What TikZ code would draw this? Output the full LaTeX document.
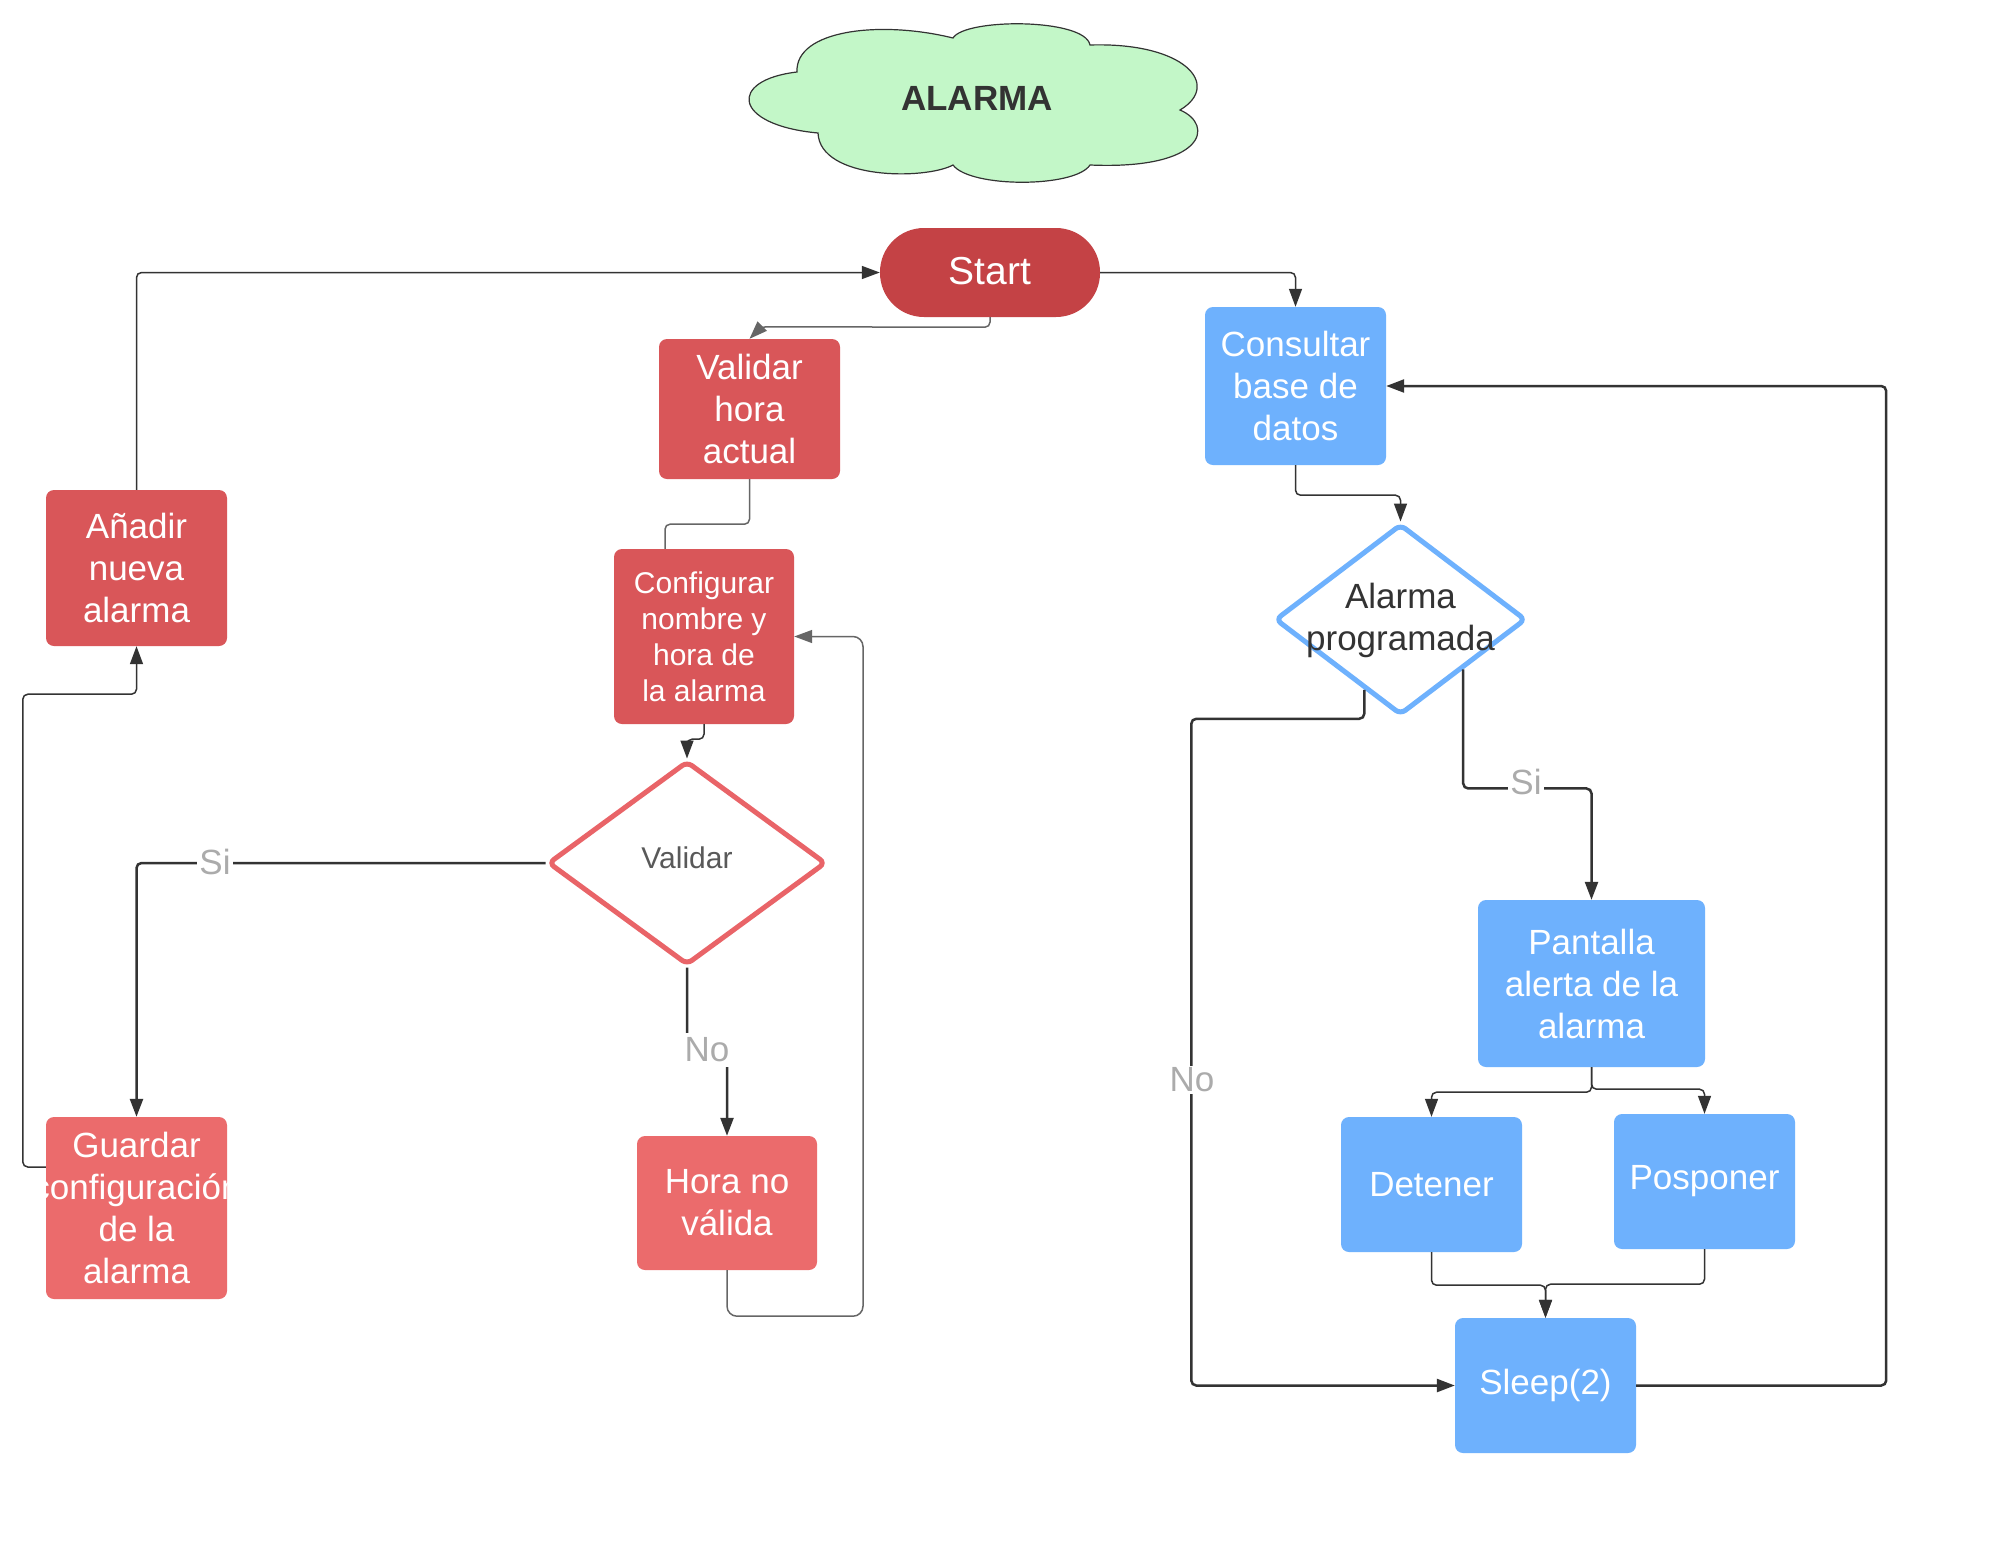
\documentclass[tikz,border=0pt]{standalone}
\usepackage{fontspec}
\setmainfont{Liberation Sans}
\usetikzlibrary{arrows.meta,shapes.geometric,calc}
\definecolor{startred}{HTML}{C44245}
\definecolor{boxred}{HTML}{D95659}
\definecolor{lightred}{HTML}{EB6B6C}
\definecolor{boxblue}{HTML}{6EB1FD}
\definecolor{dred}{HTML}{E96468}
\definecolor{cloudgreen}{HTML}{C3F7C8}
\definecolor{lbl}{HTML}{ABABAB}
\definecolor{ink}{HTML}{333333}
\definecolor{gline}{HTML}{666666}
\definecolor{vtext}{HTML}{595959}
\begin{document}
\begin{tikzpicture}[x=1pt,y=-1pt,
  box/.style={rectangle, rounded corners=8pt, inner sep=0pt, text=white, align=center, font=\fontsize{35}{42}\selectfont},
  dia/.style={diamond, line width=5pt, rounded corners=6pt, inner sep=0pt},
  thin/.style={draw=ink, line width=1.5pt, rounded corners=5pt},
  grey/.style={draw=gline, line width=1.5pt, rounded corners=5pt},
  bold/.style={draw=ink, line width=2.5pt, rounded corners=5pt},
  arr/.style={-{Triangle[length=18pt,width=13pt]}},
  lab/.style={fill=white, text=lbl, inner sep=2pt, font=\fontsize{35}{42}\selectfont}
]
\fill[white] (0,0) rectangle (1999,1545);
\useasboundingbox (0,0) rectangle (1999,1545);

% cloud
\draw[fill=cloudgreen, draw=ink, line width=1.2pt]
  (818,133) .. controls (732,125) and (728,80) .. (797,72)
  .. controls (795,30) and (880,20) .. (953,38)
  .. controls (965,18) and (1085,18) .. (1090,45)
  .. controls (1185,42) and (1222,85) .. (1180,110)
  .. controls (1215,125) and (1205,170) .. (1090,165)
  .. controls (1075,188) and (970,188) .. (953,165)
  .. controls (925,180) and (820,180) .. (818,133) -- cycle;
\node[font=\bfseries\fontsize{35}{42}\selectfont, text=ink] (title) at (977,98) {ALARMA};

% nodes
\node[box, fill=startred, minimum width=220pt, minimum height=89pt, rounded corners=44pt, font=\fontsize{39}{46}\selectfont] (start) at (990,272.5) {\raisebox{4pt}{Start}};
\node[box, fill=boxred, minimum width=181pt, minimum height=140pt] (vha) at (749.5,409) {Validar\\hora\\actual};
\node[box, fill=boxred, minimum width=180pt, minimum height=175pt, font=\fontsize{30}{36}\selectfont] (conf) at (704,636.5) {Configurar\\nombre y\\hora de\\la alarma};
\node[dia, draw=dred, minimum width=278pt, minimum height=204pt, aspect=1.36] (validar) at (687,863) {};
\node[text=vtext, font=\fontsize{30}{36}\selectfont] (validartxt) at (687,858) {Validar};
\node[box, fill=lightred, minimum width=180pt, minimum height=134pt] (hnv) at (727,1203) {Hora no\\válida};
\node[box, fill=boxred, minimum width=181pt, minimum height=156pt] (anadir) at (136.5,568) {Añadir\\nueva\\alarma};
\node[box, fill=lightred, minimum width=181pt, minimum height=182pt] (guardar) at (136.5,1208) {Guardar\\\makebox[0pt]{configuración}\\de la\\alarma};
\node[box, fill=boxblue, minimum width=181pt, minimum height=158pt] (consultar) at (1295.5,386) {Consultar\\base de\\datos};
\node[dia, draw=boxblue, minimum width=251pt, minimum height=191pt, aspect=1.31] (alarma) at (1400.5,619.5) {};
\node[text=ink, align=center, font=\fontsize{35}{42}\selectfont] (alarmatxt) at (1400.5,620) {Alarma\\programada};
\node[box, fill=boxblue, minimum width=227pt, minimum height=167pt] (pantalla) at (1591.5,983.5) {Pantalla\\alerta de la\\alarma};
\node[box, fill=boxblue, minimum width=181pt, minimum height=135pt] (detener) at (1431.5,1184.5) {Detener};
\node[box, fill=boxblue, minimum width=181pt, minimum height=135pt] (posponer) at (1704.5,1181.5) {Posponer};
\node[box, fill=boxblue, minimum width=181pt, minimum height=135pt] (sleep) at (1545.5,1385.5) {Sleep(2)};

% connectors
\draw[thin, arr] (anadir.north) |- (start.west);
\draw[grey, arr] (start.south) -- ++(0,10) -- ($(vha.north)+(12,-12)$) -- (vha.north);
\draw[grey] (vha.south) -- ++(0,45) -| ($(conf.north)+(-39,0)$);
\draw[thin, arr] (conf.south) -- ++(0,15) -| (validar.north);
\draw[bold, arr] (validar.west) -| (guardar.north);
\node[lab] (si1) at (215,862) {Si};
\draw[bold, arr] (validar.south) -- ++(0,82) -| (hnv.north);
\node[lab, inner sep=5pt] (no1) at (707,1050) {No};
\draw[grey, rounded corners=10pt, arr] (hnv.south) -- ++(0,46) -- ++(136,0) |- (conf.east);
\draw[thin, arr] ($(guardar.west)+(0,-41)$) -- ++(-23,0) |- ($(anadir.south)+(0,48)$) -- (anadir.south);
\draw[thin, arr] (start.east) -| (consultar.north);
\draw[thin, arr] (consultar.south) -- ++(0,30) -| (alarma.north);
\coordinate (nostart) at ($(alarma.west)!0.717!(alarma.south)$);
\draw[bold, arr] (nostart) -- ++(0,29) -- ++(-173,0) |- (sleep.west);
\node[lab] (no2) at (1192,1080) {No};
\coordinate (sistart) at ($(alarma.south)!0.49!(alarma.east)$);
\draw[bold, arr] (sistart) -- ++(0,119) -| (pantalla.north);
\node[lab] (si2) at (1526,782) {Si};
\draw[thin, arr] (pantalla.south) -- ++(0,25) -| (detener.north);
\draw[thin, arr] (pantalla.south) -- ++(0,22) -| (posponer.north);
\draw[thin, arr] (detener.south) -- ++(0,33) -| (sleep.north);
\draw[thin, arr] (posponer.south) -- ++(0,35) -| (sleep.north);
\draw[bold, arr] (sleep.east) -- ++(250,0) |- (consultar.east);
\end{tikzpicture}
\end{document}
